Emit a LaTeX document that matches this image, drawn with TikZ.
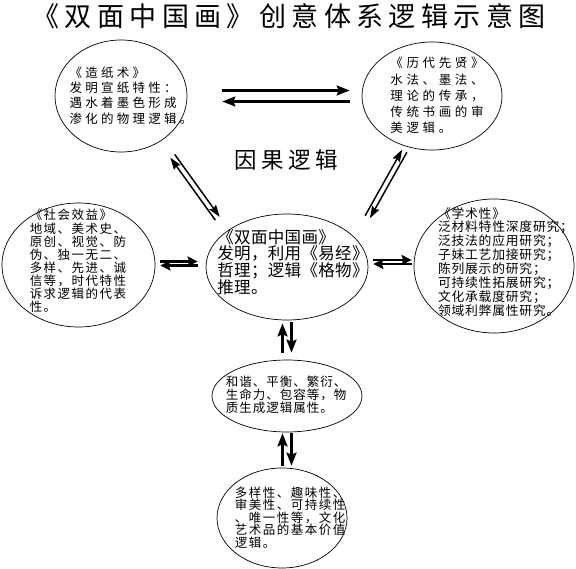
\documentclass[tikz,border=0pt]{standalone}
\usepackage{fontspec}
\usepackage{tikz}
\usetikzlibrary{shapes}
\usetikzlibrary{positioning}
\usetikzlibrary{calc}
\usetikzlibrary{arrows.meta}
\newfontfamily\cjktitre[LetterSpace=20]{Noto Sans CJK SC}
\newfontfamily\cjklarge[LetterSpace=26]{Noto Sans CJK SC}
\newfontfamily\cjkplarge[LetterSpace=29]{Noto Sans CJK SC}
\newfontfamily\cjkmoyen[LetterSpace=12]{Noto Sans CJK SC}
\newfontfamily\cjkserre[LetterSpace=8]{Noto Sans CJK SC}
\newfontfamily\cjkdroite[LetterSpace=6]{Noto Sans CJK SC}
\newfontfamily\cjk[LetterSpace=2]{Noto Sans CJK SC}

\begin{document}
\begin{tikzpicture}[x=1pt,y=-1pt]
% définition des paramètres
\tikzstyle bulle=[draw, ellipse, line width=0.7pt, inner sep=0pt]
\tikzstyle texte=[inner sep=0pt, align=left]
\tikzstyle flechehaut=[line width=2.2pt, -{Stealth[length=13pt,width=10pt,inset=2pt]}]
\tikzstyle flechediag=[line width=1.5pt, -{Stealth[length=12pt,width=8pt,inset=1.5pt]}]
\tikzstyle flechecourte=[line width=2.6pt, -{Stealth[length=10pt,width=10pt,inset=1.5pt]}]
\tikzstyle flechevert=[line width=2.4pt, -{Stealth[length=13pt,width=10pt,inset=2pt]}]
\newcommand{\policetitre}{\cjktitre\fontsize{27}{30}\selectfont}
\newcommand{\policecause}{\cjktitre\fontsize{22.5}{25}\selectfont}
\newcommand{\policelarge}{\cjklarge\fontsize{12.5}{15.2}\selectfont}
\newcommand{\policeplarge}{\cjkplarge\fontsize{12.5}{16.2}\selectfont}
\newcommand{\policegauche}{\cjkmoyen\fontsize{12.5}{13.1}\selectfont}
\newcommand{\policedroite}{\cjkdroite\fontsize{12.8}{12.9}\selectfont}
\newcommand{\policehexie}{\cjkserre\fontsize{12.5}{13}\selectfont}
\newcommand{\policeduoyang}{\cjkmoyen\fontsize{12.5}{12.4}\selectfont}
\newcommand{\policecentre}{\cjk\fontsize{16.5}{16.7}\selectfont}
\useasboundingbox (0,0) rectangle (576,569);
% le titre
\node[texte, font=\policetitre] (titre) at (289,16) {《双面中国画》创意体系逻辑示意图};
\node[texte, font=\policecause] (cause) at (286,160) {因果逻辑};
% les bulles
\node[bulle, minimum width=132, minimum height=112] (zaozhi) at (121,96) {};
\node[bulle, minimum width=140, minimum height=108] (lidai) at (432,96) {};
\node[bulle, minimum width=153, minimum height=124] (shehui) at (78.5,265) {};
\node[bulle, minimum width=162, minimum height=106] (shuangmian) at (287,267) {};
\node[bulle, minimum width=160, minimum height=134] (xueshu) at (494,266) {};
\node[bulle, minimum width=150, minimum height=72] (hexie) at (287,396) {};
\node[bulle, minimum width=130, minimum height=100] (duoyang) at (282,518) {};
% les textes
\node[texte, font=\policelarge] (zaozhi-t) at (131,95.5) {《造纸术》\\发明宣纸特性：\\遇水着墨色形成\\渗化的物理逻辑。};
\node[texte, font=\policeplarge] (lidai-t) at (437,95.5) {《历代先贤》\\水法、墨法、\\理论的传承，\\传统书画的审\\美逻辑。};
\node[texte, font=\policegauche] (shehui-t) at (78,261) {《社会效益》\\地域、美术史、\\原创、视觉、防\\伪、独一无二、\\多样、先进、诚\\信等，时代特性\\诉求逻辑的代表\\性。};
\node[texte, font=\policecentre] (shuangmian-t) at (293,262) {《双面中国画》\\发明，利用《易经》\\哲理；逻辑《格物》\\推理。};
\node[texte, font=\policedroite] (xueshu-t) at (505.5,262) {《学术性》\\泛材料特性深度研究；\\泛技法的应用研究；\\子妹工艺加接研究；\\陈列展示的研究；\\可持续性拓展研究；\\文化承载度研究；\\领域利弊属性研究。};
\node[texte, font=\policehexie] (hexie-t) at (286,395) {和谐、平衡、繁衍、\\生命力、包容等，物\\质生成逻辑属性。};
\node[texte, font=\policeduoyang] (duoyang-t) at (290,517.5) {多样性、趣味性、\\审美性、可持续性\\、唯一性等，文化\\艺术品的基本价值\\逻辑。};
% les flèches du haut
\draw[flechehaut, shorten <=35pt, shorten >=12pt] ([yshift=5.5pt]zaozhi.east) -- ([yshift=5.5pt]lidai.west);
\draw[flechehaut, shorten <=12pt, shorten >=35pt] ([yshift=-5.5pt]lidai.west) -- ([yshift=-5.5pt]zaozhi.east);
% les diagonales
\coordinate (zs-a) at (172.5,156);
\coordinate (zs-b) at (217.5,218.5);
\coordinate (ls-a) at (404.5,151);
\coordinate (ls-b) at (367.5,217);
\draw[flechediag] ([shift={(-2.2,1.6)}]zs-b) -- ([shift={(-2.2,1.6)}]zs-a);
\draw[flechediag] ([shift={(2.2,-1.6)}]zs-a) -- ([shift={(2.2,-1.6)}]zs-b);
\draw[flechediag] ([shift={(-2.35,-1.3)}]ls-b) -- ([shift={(-2.35,-1.3)}]ls-a);
\draw[flechediag] ([shift={(2.35,1.3)}]ls-a) -- ([shift={(2.35,1.3)}]ls-b);
% les petites flèches horizontales
\draw[flechecourte, shorten <=5pt, shorten >=8pt] ([yshift=3.5pt]shehui.east) -- ([yshift=3.5pt]shehui.east -| shuangmian.west);
\draw[flechecourte, shorten <=8pt, shorten >=5pt] ([yshift=-0.5pt]shehui.east -| shuangmian.west) -- ([yshift=-0.5pt]shehui.east);
\draw[flechecourte, shorten <=5pt, shorten >=2pt] ([yshift=6pt]xueshu.west -| shuangmian.east) -- ([yshift=6pt]xueshu.west);
\draw[flechecourte, shorten <=2pt, shorten >=5pt] ([yshift=2pt]xueshu.west) -- ([yshift=2pt]xueshu.west -| shuangmian.east);
% les flèches verticales
\draw[flechevert, shorten <=7pt, shorten >=3pt] ([xshift=-4.5pt]hexie.north) -- ([xshift=-4.5pt]shuangmian.south);
\draw[flechevert, shorten <=2pt, shorten >=7pt] ([xshift=4.5pt]shuangmian.south) -- ([xshift=4.5pt]hexie.north);
\draw[flechevert, shorten <=2pt, shorten >=1pt] ([xshift=-4.5pt]hexie.south |- duoyang.north) -- ([xshift=-4.5pt]hexie.south);
\draw[flechevert, shorten <=1pt, shorten >=2pt] ([xshift=4.5pt]hexie.south) -- ([xshift=4.5pt]hexie.south |- duoyang.north);
\end{tikzpicture}
\end{document}
